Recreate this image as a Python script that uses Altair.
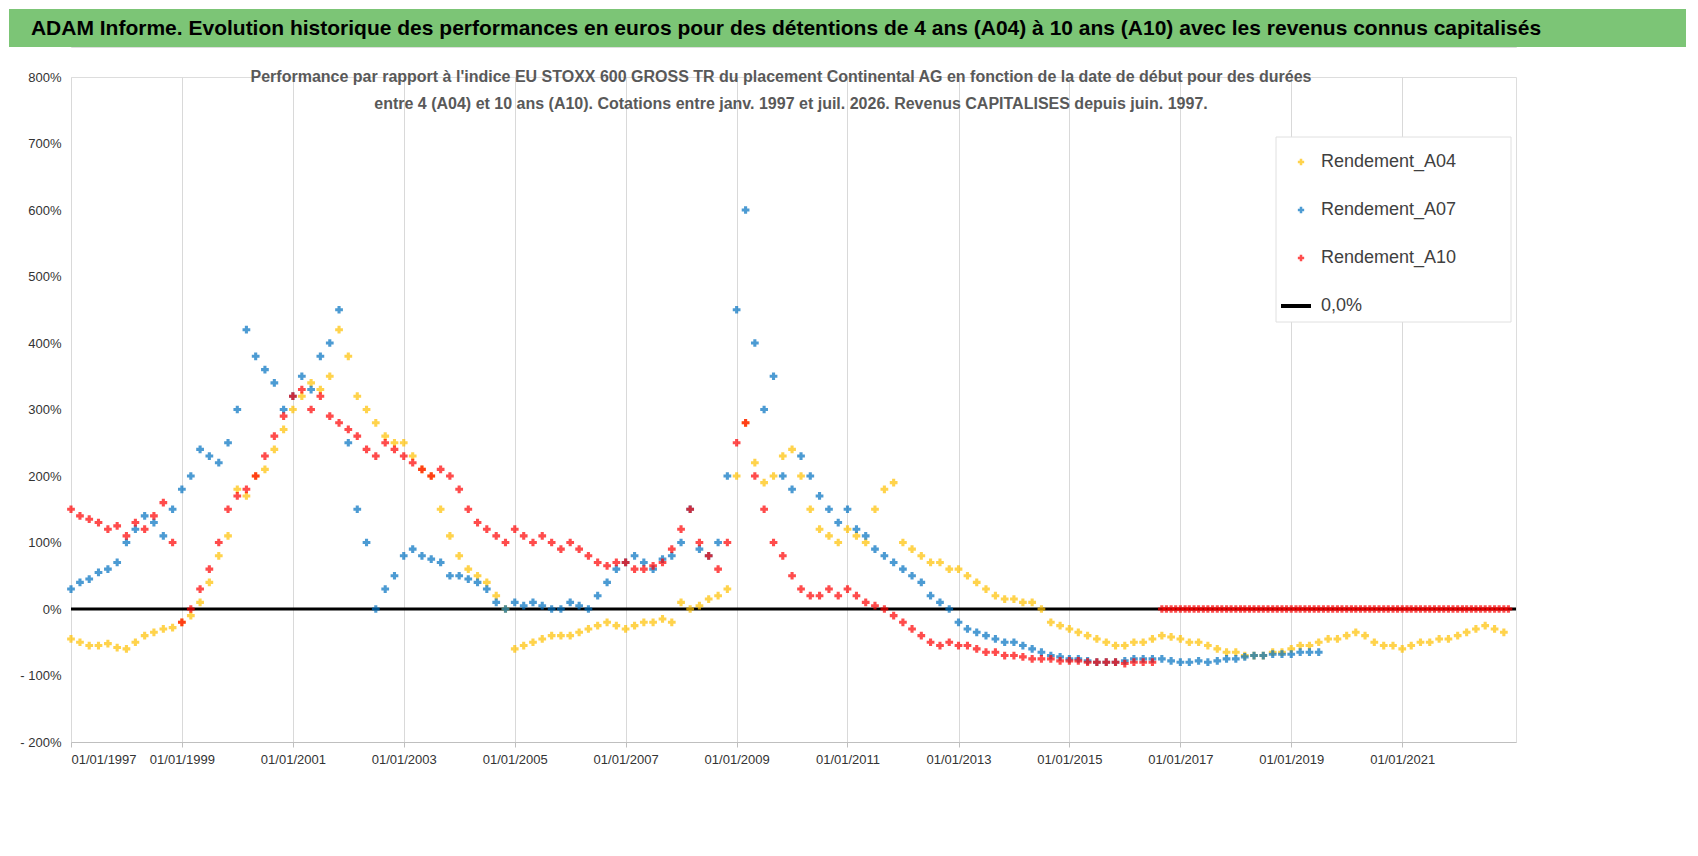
import altair as alt
import pandas as pd

# bimonthly readings (%), starting 01/1997
a04 = [
    -45, -50, -55, -55, -52, -58, -60, -50, -40, -35, -30, -28,
    -20, -10, 10, 40, 80, 110, 180, 170, 200, 210, 240, 270,
    300, 320, 340, 330, 350, 420, 380, 320, 300, 280, 260, 250,
    250, 230, 210, 200, 150, 110, 80, 60, 50, 40, 20, 0,
    -60, -55, -50, -45, -40, -40, -40, -35, -30, -25, -20, -25,
    -30, -25, -20, -20, -15, -20, 10, 0, 5, 15, 20, 30,
    200, 280, 220, 190, 200, 230, 240, 200, 150, 120, 110, 100,
    120, 110, 100, 150, 180, 190, 100, 90, 80, 70, 70, 60,
    60, 50, 40, 30, 20, 15, 15, 10, 10, 0, -20, -25,
    -30, -35, -40, -45, -50, -55, -55, -50, -50, -45, -40, -42,
    -45, -50, -50, -55, -60, -65, -65, -70, -70, -70, -65, -65,
    -60, -55, -55, -50, -45, -45, -40, -35, -40, -50, -55, -55,
    -60, -55, -50, -50, -45, -45, -40, -35, -30, -25, -30, -35,
]
a07 = [
    30, 40, 45, 55, 60, 70, 100, 120, 140, 130, 110, 150,
    180, 200, 240, 230, 220, 250, 300, 420, 380, 360, 340, 300,
    320, 350, 330, 380, 400, 450, 250, 150, 100, 0, 30, 50,
    80, 90, 80, 75, 70, 50, 50, 45, 40, 30, 10, 0,
    10, 5, 10, 5, 0, 0, 10, 5, 0, 20, 40, 60,
    70, 80, 70, 60, 75, 80, 100, 150, 90, 80, 100, 200,
    450, 600, 400, 300, 350, 200, 180, 230, 200, 170, 150, 130,
    150, 120, 110, 90, 80, 70, 60, 50, 40, 20, 10, 0,
    -20, -30, -35, -40, -45, -50, -50, -55, -60, -65, -70, -72,
    -75, -75, -78, -80, -80, -80, -78, -75, -75, -75, -75, -78,
    -80, -80, -78, -80, -78, -75, -75, -72, -70, -70, -68, -68,
    -68, -65, -65, -65,
]
a10 = [
    150, 140, 135, 130, 120, 125, 110, 130, 120, 140, 160, 100,
    -20, 0, 30, 60, 100, 150, 170, 180, 200, 230, 260, 290,
    320, 330, 300, 320, 290, 280, 270, 260, 240, 230, 250, 240,
    230, 220, 210, 200, 210, 200, 180, 150, 130, 120, 110, 100,
    120, 110, 100, 110, 100, 90, 100, 90, 80, 70, 65, 70,
    70, 60, 60, 65, 70, 90, 120, 150, 100, 80, 60, 100,
    250, 280, 200, 150, 100, 80, 50, 30, 20, 20, 30, 20,
    30, 20, 10, 5, 0, -10, -20, -30, -40, -50, -55, -50,
    -55, -55, -60, -65, -65, -70, -70, -72, -75, -75, -75, -78,
    -78, -78, -80, -80, -80, -80, -82, -80, -80, -80,
]
# A10 after 09/2016: monthly, all at 0 %
a10_zero_months = 76

rows = []
for name, vals in [("Rendement_A04", a04), ("Rendement_A07", a07), ("Rendement_A10", a10)]:
    dates = pd.date_range("1997-01-01", periods=len(vals), freq="2MS")
    rows += [{"date": d, "val": v, "serie": name} for d, v in zip(dates, vals)]
for d in pd.date_range("2016-09-01", periods=a10_zero_months, freq="MS"):
    rows.append({"date": d, "val": 0, "serie": "Rendement_A10"})
df = pd.DataFrame(rows)

series = ["Rendement_A04", "Rendement_A07", "Rendement_A10"]
colors = ["#FFC000", "#0070C0", "#FF0000"]
font = "Liberation Sans"

x = alt.X("date:T", scale=alt.Scale(domain=["1997-01-01", "2023-01-20"]),
          axis=alt.Axis(title=None, values=[f"{y}-01-01" for y in range(1997, 2023, 2)],
                        labelExpr="timeFormat(datum.value, '%d/%m/%Y')", grid=True,
                        gridColor="#d9d9d9", domainColor="#bfbfbf", tickColor="#bfbfbf",
                        labelFontSize=13, labelColor="#333", labelFont=font, labelPadding=6))
y = alt.Y("val:Q", scale=alt.Scale(domain=[-200, 800]),
          axis=alt.Axis(title=None, values=list(range(-200, 801, 100)), grid=False,
                        labelExpr="datum.value < 0 ? '- ' + abs(datum.value) + '%' : datum.value + '%'",
                        domain=False, ticks=False, labelFontSize=13, labelColor="#333",
                        labelFont=font, labelPadding=10))

pts = alt.Chart(df).mark_point(shape="cross", filled=True, size=60).encode(
    x=x, y=y,
    color=alt.Color("serie:N", scale=alt.Scale(domain=series, range=colors), legend=None),
)
zero = alt.Chart(pd.DataFrame({"v": [0]})).mark_rule(color="black", strokeWidth=3).encode(y="v:Q")

sub1 = alt.Chart(pd.DataFrame({"t": ["Performance par rapport à l'indice EU STOXX 600 GROSS TR  du placement Continental AG en fonction de la date de début pour des durées"]})).mark_text(
    fontSize=16, fontWeight="bold", color="#595959", font=font).encode(text="t:N", x=alt.value(710), y=alt.value(0))
sub2 = alt.Chart(pd.DataFrame({"t": ["entre 4 (A04) et 10 ans (A10).  Cotations entre janv. 1997 et juil. 2026. Revenus CAPITALISES depuis juin. 1997."]})).mark_text(
    fontSize=16, fontWeight="bold", color="#595959", font=font).encode(text="t:N", x=alt.value(720), y=alt.value(27))

leg_box = alt.Chart(pd.DataFrame({"a": [0]})).mark_rect(fill="white", stroke="#e0e0e0").encode(
    x=alt.value(1205), x2=alt.value(1440), y=alt.value(60), y2=alt.value(245))
leg_df = pd.DataFrame({"serie": series, "ly": [85, 133, 181]})
leg_pts = alt.Chart(leg_df).mark_point(shape="cross", filled=True, size=40).encode(
    x=alt.value(1230), y=alt.Y("ly:Q", scale=None),
    color=alt.Color("serie:N", scale=alt.Scale(domain=series, range=colors), legend=None))
leg_txt = alt.Chart(pd.DataFrame({"t": series + ["0,0%"], "ly": [85, 133, 181, 229]})).mark_text(
    align="left", fontSize=18, color="#404040", font=font).encode(
    x=alt.value(1250), y=alt.Y("ly:Q", scale=None), text="t:N")
leg_line = alt.Chart(pd.DataFrame({"a": [0]})).mark_rule(color="black", strokeWidth=4).encode(
    x=alt.value(1210), x2=alt.value(1240), y=alt.value(229))

main = alt.layer(zero, pts, sub1, sub2, leg_box, leg_pts, leg_txt, leg_line).properties(
    width=1445, height=665)

bar = alt.Chart(pd.DataFrame({"a": [0]})).mark_rect(color="#7CC576").encode(
    x=alt.value(-62), x2=alt.value(1615), y=alt.value(0), y2=alt.value(38))
header_txt = alt.Chart(pd.DataFrame({"t": ["ADAM Informe. Evolution historique des performances en euros pour des détentions de 4 ans (A04) à 10 ans (A10) avec les revenus connus capitalisés"]})).mark_text(
    fontSize=21, fontWeight="bold", color="black", font=font).encode(
    text="t:N", x=alt.value(715), y=alt.value(20))
header = alt.layer(bar, header_txt).properties(width=1445, height=38)

chart = alt.vconcat(header, main, spacing=20).configure_view(stroke=None).configure(
    background="white", padding={"left": 0, "top": 0, "right": 0, "bottom": 0})

chart.save("out.html", embed_options={"renderer": "svg", "actions": False})
